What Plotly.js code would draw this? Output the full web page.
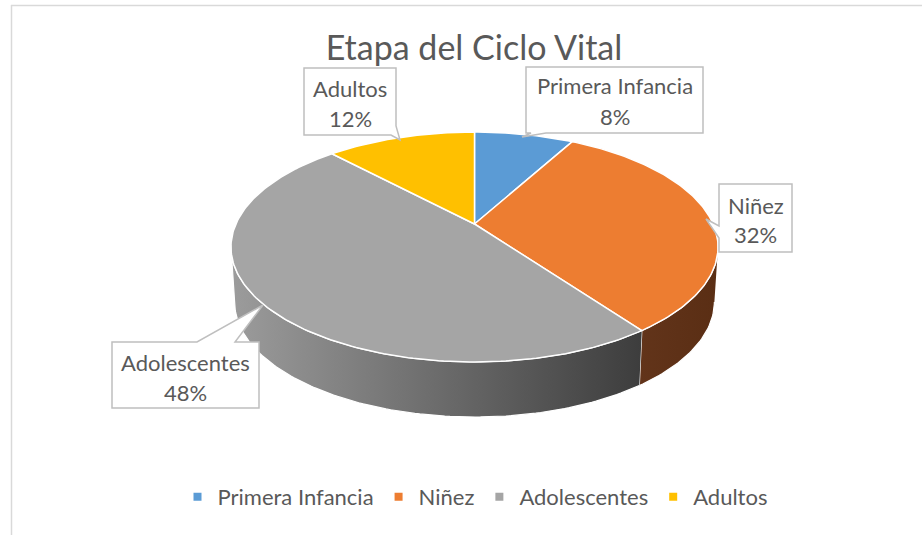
<!DOCTYPE html>
<html>
<head>
<meta charset="utf-8">
<script src="https://cdn.plot.ly/plotly-3.0.1.min.js"></script>
<style>html,body{margin:0;padding:0;background:#fff;}#chart{width:922px;height:535px;}</style>
</head>
<body>
<div id="chart"></div>
<script>
// ---- data ----
const categories = ['Primera Infancia', 'Niñez', 'Adolescentes', 'Adultos'];
const values = [8, 32, 48, 12];
const chartTitle = 'Etapa del Ciclo Vital';

// ---- styles ----
const topColors = ['#5B9BD5', '#ED7D31', '#A5A5A5', '#FFC000'];
const sideScales = [
  [[0, '#3a5f85'], [1, '#2b4868']],
  [[0, '#62341a'], [1, '#5a2e14']],
  [[0, '#9c9c9c'], [0.5, '#6c6c6c'], [1, '#3d3d3d']],
  [[0, '#9c7800'], [1, '#7a5e00']]
];
const FONT = 'Lato, "Open Sans", sans-serif';
const TXT = '#595959';

// ---- projection of the tilted pie (pixel-space axes) ----
const CX = 474.5, CY = 224, AX = 238.6, BY = 110.4, PERSP = 0.2, DEPTH = 55, BOTSCALE = 0.985;
function proj(deg, bottom) {
  const r = deg * Math.PI / 180;
  const u = Math.sin(r), v = Math.cos(r);
  const d = 1 + PERSP * v;
  let x = CX + AX * u / d;
  let y = CY - BY * v / d;
  if (bottom) { x = CX + (x - CX) * BOTSCALE; y += DEPTH; }
  return [x, y];
}
function range(a, b) {
  const out = [];
  const n = Math.max(2, Math.ceil(Math.abs(b - a)));
  for (let i = 0; i <= n; i++) out.push(a + (b - a) * i / n);
  return out;
}

const total = values.reduce((s, v) => s + v, 0);
const bounds = [];
let acc = 0;
values.forEach(v => { bounds.push([acc / total * 360, (acc + v) / total * 360]); acc += v; });

// front silhouette angles
const FRONT_A = 180 - Math.acos(PERSP) * 180 / Math.PI; // ~101.5
const FRONT_B = 360 - FRONT_A;

const traces = [];
// side walls
bounds.forEach((b, i) => {
  const s = Math.max(b[0], FRONT_A), e = Math.min(b[1], FRONT_B);
  if (e <= s) return;
  const xs = [], ys = [];
  range(s, e).forEach(a => { const p = proj(a, false); xs.push(p[0]); ys.push(p[1]); });
  range(e, s).forEach(a => { const p = proj(a, true); xs.push(p[0]); ys.push(p[1]); });
  traces.push({
    type: 'scatter', mode: 'lines', x: xs, y: ys, fill: 'toself',
    fillgradient: { type: 'horizontal', colorscale: sideScales[i] },
    line: { color: '#ffffff', width: 1.2 }, hoverinfo: 'skip', showlegend: false
  });
});
// top faces
bounds.forEach((b, i) => {
  const xs = [CX], ys = [CY];
  range(b[0], b[1]).forEach(a => { const p = proj(a, false); xs.push(p[0]); ys.push(p[1]); });
  xs.push(CX); ys.push(CY);
  traces.push({
    type: 'scatter', mode: 'lines', x: xs, y: ys, fill: 'toself', fillcolor: topColors[i],
    line: { color: '#ffffff', width: 1.5 }, name: categories[i],
    text: categories[i] + ': ' + values[i], hoverinfo: 'text', showlegend: false
  });
});
// legend entries
categories.forEach((c, i) => {
  traces.push({
    type: 'scatter', mode: 'markers', x: [null], y: [null], name: c,
    marker: { symbol: 'square', size: 8, color: topColors[i] }, showlegend: true
  });
});

// ---- data label callouts ----
const pct = values.map(v => Math.round(v / total * 100) + '%');
const labelBoxes = [
  { cx: 614.5, y1: 85, y2: 116, path: 'M526,67 H703 V133 H546 L522,137 L531,133 H526 Z' },
  { cx: 755.5, y1: 205, y2: 234, path: 'M719,184 H792 V252 H719 V238 L706,219 L719,226 Z' },
  { cx: 185.5, y1: 362, y2: 392, path: 'M112,342 H197 L263,305 L235,342 H259 V408 H112 Z' },
  { cx: 350, y1: 88, y2: 118, path: 'M304,68 H396 V126 L400,140 L391,135 H304 Z' }
];
const shapes = [
  { type: 'line', xref: 'x', yref: 'y', x0: 11, x1: 922, y0: 5.5, y1: 5.5, line: { color: '#d9d9d9', width: 1.5 } },
  { type: 'line', xref: 'x', yref: 'y', x0: 11.5, x1: 11.5, y0: 5, y1: 535, line: { color: '#d9d9d9', width: 1.5 } }
];
const annotations = [];
labelBoxes.forEach((bx, i) => {
  shapes.push({ type: 'path', xref: 'x', yref: 'y', path: bx.path, fillcolor: '#ffffff',
    line: { color: '#bfbfbf', width: 1.5 }, layer: 'above' });
  annotations.push({ x: bx.cx, y: bx.y1, xref: 'x', yref: 'y', text: categories[i], showarrow: false,
    xanchor: 'center', yanchor: 'middle', font: { family: FONT, size: 22, color: TXT } });
  annotations.push({ x: bx.cx, y: bx.y2, xref: 'x', yref: 'y', text: pct[i], showarrow: false,
    xanchor: 'center', yanchor: 'middle', font: { family: FONT, size: 22, color: TXT } });
});

const layout = {
  width: 922, height: 535,
  margin: { l: 0, r: 0, t: 0, b: 0 },
  paper_bgcolor: '#ffffff', plot_bgcolor: '#ffffff',
  title: { text: chartTitle, x: 474 / 922, xanchor: 'center', y: 1 - 48 / 535, yanchor: 'middle',
    font: { family: FONT, size: 34, color: TXT } },
  xaxis: { range: [0, 922], visible: false, fixedrange: true },
  yaxis: { range: [535, 0], visible: false, fixedrange: true },
  showlegend: true,
  legend: { orientation: 'h', x: 475 / 922, xanchor: 'center', y: 1 - 497 / 535, yanchor: 'middle',
    font: { family: FONT, size: 22, color: TXT }, bgcolor: 'rgba(0,0,0,0)' },
  shapes: shapes,
  annotations: annotations
};

Plotly.newPlot('chart', traces, layout, { displayModeBar: false, staticPlot: true });
</script>
</body>
</html>
